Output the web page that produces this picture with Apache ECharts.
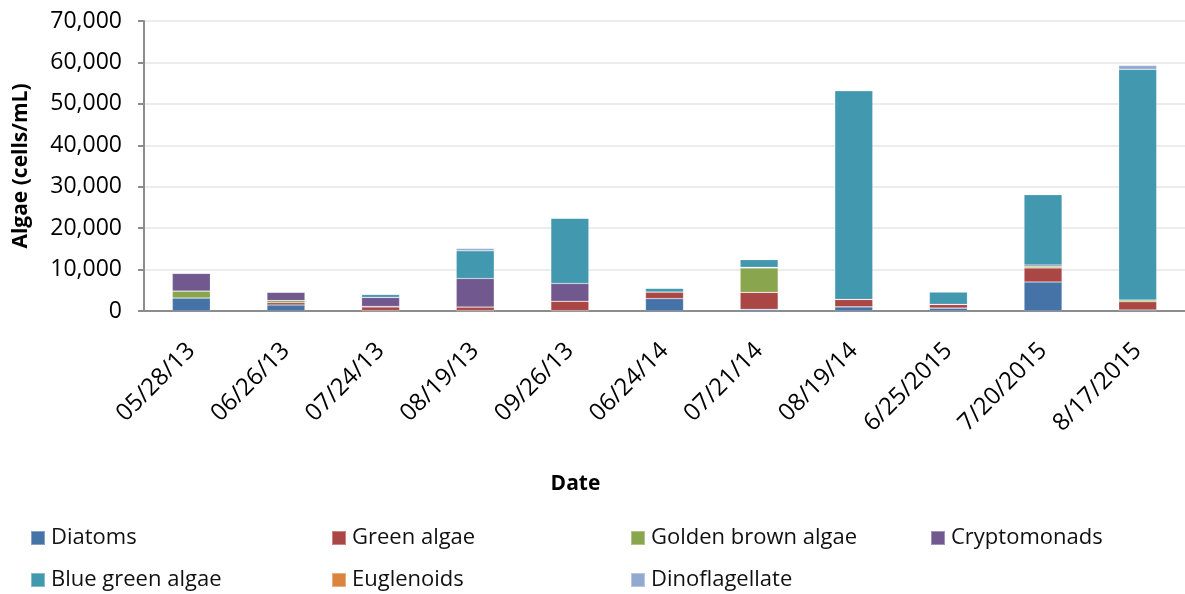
<!DOCTYPE html>
<html>
<head>
<meta charset="utf-8">
<script src="https://cdn.jsdelivr.net/npm/echarts@6/dist/echarts.min.js"></script>
<style>
  html, body { margin: 0; padding: 0; background: #fff; }
  #chart { width: 1185px; height: 594px; }
</style>
</head>
<body>
<div id="chart"></div>
<script>
var dates = ['05/28/13', '06/26/13', '07/24/13', '08/19/13', '09/26/13', '06/24/14',
             '07/21/14', '08/19/14', '6/25/2015', '7/20/2015', '8/17/2015']

// cells/mL
var diatoms       = [3150, 1450,  100,  100,   100, 3000,  400,  1000, 700, 7000,   250]
var greenAlgae    = [   0,  550,  900,  850,  2250, 1600, 4100,  1800, 900, 3400,  2000]
var goldenBrown   = [1650,  500,  100,    0,     0,    0, 5900,     0,   0,  400,   400]
var cryptomonads  = [4300, 2050, 2200, 6900,  4300,    0,  150,     0,   0,  300,     0]
var blueGreen     = [   0,   50,  700, 6700, 15750,  900, 1850, 50400, 3000, 17000, 55700]
var euglenoids    = [   0,    0,  100,    0,     0,    0,  100,     0,  50,  100,     0]
var dinoflagellate = [ 100,  50,  100,  550,     0,    0,    0,     0,   0,    0,   900]

var seriesNames = ['Diatoms', 'Green algae', 'Golden brown algae', 'Cryptomonads',
                   'Blue green algae', 'Euglenoids', 'Dinoflagellate']
var seriesData = [diatoms, greenAlgae, goldenBrown, cryptomonads, blueGreen, euglenoids, dinoflagellate]
var colors = ['#4572A7', '#AA4643', '#89A54E', '#71588F', '#4198AF', '#DB843D', '#93A9CF']

var font = 'Open Sans'

// legend slots: two rows, four columns
var legendPos = [[25, 522], [326, 522], [625, 522], [925, 522],
                 [25, 564], [326, 564], [625, 564]]

var chart = echarts.init(document.getElementById('chart'))

var options = {
    color: colors,
    animation: false,
    textStyle: { fontFamily: font },
    grid: { left: 144, top: 21, width: 1047, height: 290, containLabel: false },
    legend: seriesNames.map(function (n, i) {
        return {
            data: [n],
            left: legendPos[i][0],
            top: legendPos[i][1],
            icon: 'rect',
            itemWidth: 14,
            itemHeight: 14,
            itemGap: 0,
            textStyle: { fontFamily: font, fontSize: 22, color: '#111', padding: [0, 0, 0, 1] }
        }
    }),
    xAxis: {
        type: 'category',
        data: dates,
        name: 'Date',
        nameLocation: 'middle',
        nameGap: 163,
        nameTextStyle: { fontFamily: font, fontSize: 21, fontWeight: 'bold', color: '#000', padding: [0, 178, 0, 0] },
        axisLine: { lineStyle: { color: '#8c8c8c', width: 2 } },
        axisTick: { length: 7, lineStyle: { color: '#8c8c8c', width: 2 } },
        axisLabel: { rotate: 45, fontFamily: font, fontSize: 24, color: '#000', margin: 36 }
    },
    yAxis: {
        type: 'value',
        min: 0,
        max: 70000,
        interval: 10000,
        name: 'Algae (cells/mL)',
        nameLocation: 'middle',
        nameGap: 112,
        nameTextStyle: { fontFamily: font, fontSize: 21, fontWeight: 'bold', color: '#000' },
        axisLine: { show: true, lineStyle: { color: '#8c8c8c', width: 2 } },
        axisTick: { show: true, length: 6, lineStyle: { color: '#8c8c8c', width: 2 } },
        axisLabel: {
            fontFamily: font, fontSize: 23, color: '#000', margin: 22,
            formatter: function (v) { return v.toLocaleString('en-US') }
        },
        splitLine: { lineStyle: { color: '#ececec', width: 2 } }
    },
    series: seriesNames.map(function (n, i) {
        return {
            name: n,
            type: 'bar',
            stack: 'total',
            barWidth: 38,
            data: seriesData[i],
            itemStyle: { borderColor: 'rgba(255,255,255,0.35)', borderWidth: 0.6 }
        }
    })
}

chart.setOption(options)
</script>
</body>
</html>
